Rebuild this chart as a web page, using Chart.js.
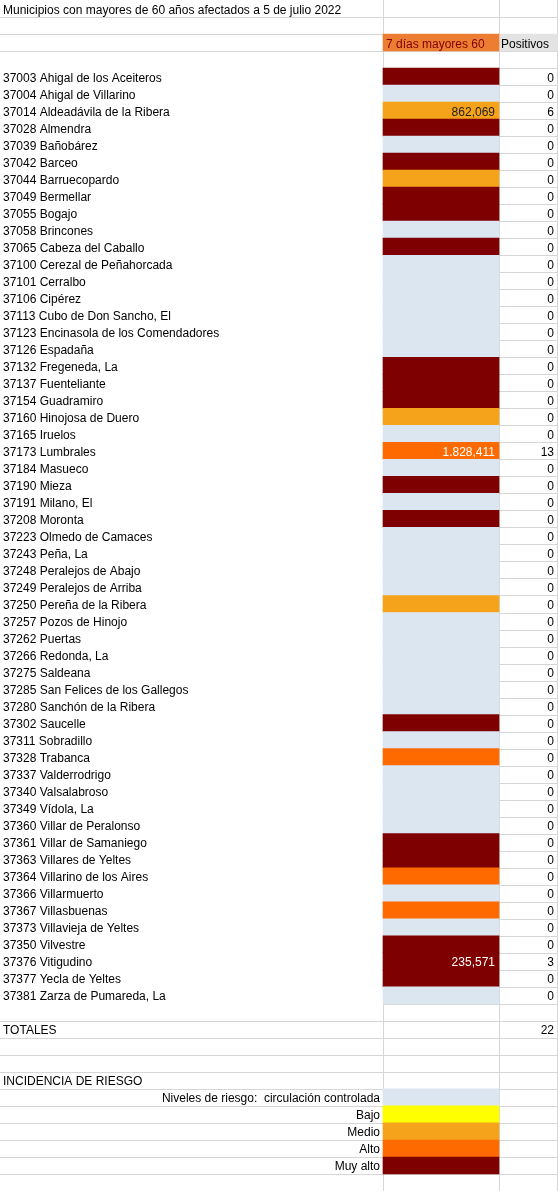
<!DOCTYPE html>
<html><head><meta charset="utf-8">
<script src="https://cdn.jsdelivr.net/npm/chart.js@4/dist/chart.umd.min.js"></script>
<style>html,body{margin:0;padding:0;background:#fff}#w{width:558px;height:1191px}</style>
</head><body><div id="w"><canvas id="c"></canvas></div>
<script>
const title = "Municipios con mayores de 60 años afectados a 5 de julio 2022";
const headerB = "7 días mayores 60";
const headerC = "Positivos";
const municipios = ["37003 Ahigal de los Aceiteros","37004 Ahigal de Villarino","37014 Aldeadávila de la Ribera","37028 Almendra","37039 Bañobárez","37042 Barceo","37044 Barruecopardo","37049 Bermellar","37055 Bogajo","37058 Brincones","37065 Cabeza del Caballo","37100 Cerezal de Peñahorcada","37101 Cerralbo","37106 Cipérez","37113 Cubo de Don Sancho, El","37123 Encinasola de los Comendadores","37126 Espadaña","37132 Fregeneda, La","37137 Fuenteliante","37154 Guadramiro","37160 Hinojosa de Duero","37165 Iruelos","37173 Lumbrales","37184 Masueco","37190 Mieza","37191 Milano, El","37208 Moronta","37223 Olmedo de Camaces","37243 Peña, La","37248 Peralejos de Abajo","37249 Peralejos de Arriba","37250 Pereña de la Ribera","37257 Pozos de Hinojo","37262 Puertas","37266 Redonda, La","37275 Saldeana","37285 San Felices de los Gallegos","37280 Sanchón de la Ribera","37302 Saucelle","37311 Sobradillo","37328 Trabanca","37337 Valderrodrigo","37340 Valsalabroso","37349 Vídola, La","37360 Villar de Peralonso","37361 Villar de Samaniego","37363 Villares de Yeltes","37364 Villarino de los Aires","37366 Villarmuerto","37367 Villasbuenas","37373 Villavieja de Yeltes","37350 Vilvestre","37376 Vitigudino","37377 Yecla de Yeltes","37381 Zarza de Pumareda, La"];
// 0 controlada, 1 bajo, 2 medio, 3 alto, 4 muy alto
const riesgo = [4,0,2,4,0,4,2,4,4,0,4,0,0,0,0,0,0,4,4,4,2,0,3,0,4,0,4,0,0,0,0,2,0,0,0,0,0,0,4,0,3,0,0,0,0,4,4,3,0,3,0,4,4,4,0];
const incidencia = {2:"862,069",22:"1.828,411",52:"235,571"};
const positivos = [0,0,6,0,0,0,0,0,0,0,0,0,0,0,0,0,0,0,0,0,0,0,13,0,0,0,0,0,0,0,0,0,0,0,0,0,0,0,0,0,0,0,0,0,0,0,0,0,0,0,0,0,3,0,0];
const total = 22;
const niveles = ["Niveles de riesgo:  circulación controlada","Bajo","Medio","Alto","Muy alto"];
const colores = ["#dce6f1","#ffff00","#f5a31a","#ff6a00","#7f0000"];

const NROWS = 70, FIRST = 4, TOT = 60, INC = 63, LEG = 64;
const colA = 0, colB = 383, colC = 499, colEnd = 558;
const labels = Array.from({length:NROWS},(_,i)=>i);
const barData = labels.map(()=>null), barCol = labels.map(()=>"rgba(0,0,0,0)");
const cData = labels.map(()=>null), cCol = labels.map(()=>"rgba(0,0,0,0)");
barData[2] = [colB,colC]; barCol[2] = "#ed7d31";
cData[2] = [colC,colEnd]; cCol[2] = "#e3e3e3";
riesgo.forEach((r,i)=>{barData[FIRST+i]=[colB,colC];barCol[FIRST+i]=colores[r];});
niveles.forEach((n,i)=>{barData[LEG+i]=[colB,colC];barCol[LEG+i]=colores[i];});

const textPlugin = {
  id:'txt',
  beforeDatasetsDraw(ch){
    const c=ch.ctx, y=ch.scales.y;
    c.save(); c.strokeStyle="#d6d6d6"; c.lineWidth=1;
    for(let i=0;i<NROWS;i++){
      const yb=Math.round(y.getPixelForValue(i)+8.5)+0.5;
      const inData = i>=FIRST-1 && i<FIRST+municipios.length;
      c.beginPath(); c.moveTo(inData?colB:0,yb); c.lineTo(colEnd,yb); c.stroke();
    }
    [colB,colC,colEnd-1].forEach(x=>{c.beginPath();c.moveTo(x+0.5,0);c.lineTo(x+0.5,1191);c.stroke();});
    c.restore();
  },
  afterDatasetsDraw(ch){
    const c=ch.ctx, y=ch.scales.y;
    c.save(); c.font="12px 'Liberation Sans', Arial, sans-serif"; c.textBaseline="alphabetic";
    const put=(t,x,i,al,col)=>{c.textAlign=al;c.fillStyle=col||"#000";c.fillText(t,x,y.getPixelForValue(i)+5);};
    put(title,3,0,"left");
    put(headerB,colB+3,2,"left","#7f0000");
    put(headerC,colC+2,2,"left");
    municipios.forEach((m,i)=>{
      put(m,3,FIRST+i,"left");
      put(String(positivos[i]),colEnd-4,FIRST+i,"right");
      if(incidencia[i]) put(incidencia[i],colC-4,FIRST+i,"right",riesgo[i]===2?"#222":"#fff");
    });
    put("TOTALES",3,TOT,"left"); put(String(total),colEnd-4,TOT,"right");
    put("INCIDENCIA DE RIESGO",3,INC,"left");
    niveles.forEach((n,i)=>put(n,colB-3,LEG+i,"right"));
    c.restore();
  }
};

new Chart(document.getElementById('c'),{
  type:'bar',
  data:{labels,datasets:[
    {data:barData,backgroundColor:barCol,barPercentage:1,categoryPercentage:1,grouped:false},
    {data:cData,backgroundColor:cCol,barPercentage:1,categoryPercentage:1,grouped:false}
  ]},
  options:{indexAxis:'y',responsive:true,maintainAspectRatio:false,animation:false,
    layout:{padding:0},
    plugins:{legend:{display:false},tooltip:{enabled:false}},
    scales:{x:{type:'linear',min:0,max:558,display:false},y:{display:false}}},
  plugins:[textPlugin]
});
</script></body></html>
